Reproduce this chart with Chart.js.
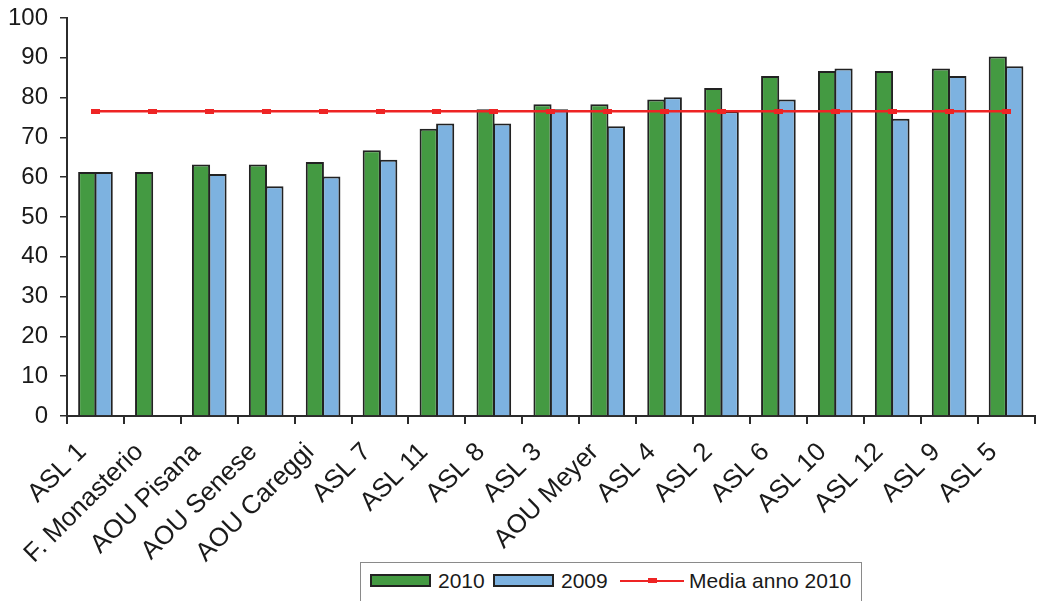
<!DOCTYPE html>
<html>
<head>
<meta charset="utf-8">
<script src="https://cdn.jsdelivr.net/npm/chart.js@4.4.1/dist/chart.umd.min.js"></script>
<style>
  html, body { margin: 0; padding: 0; background: #fff; overflow: hidden; }
  #wrap { position: relative; width: 1041px; height: 601px; }
  #c { position: absolute; left: 0; top: 0; }
  #legend {
    position: absolute; left: 360px; top: 562px; width: 502px; height: 60px;
    border: 1px solid #8a8a8a; box-sizing: border-box; background: #fff;
    font-family: "Liberation Sans", Arial, sans-serif; font-size: 21px; color: #1a1a1a;
  }
  .sw { position: absolute; top: 11px; width: 61px; height: 13px; box-sizing: border-box; border: 2px solid #222; }
  .tx { position: absolute; top: 5px; height: 26px; line-height: 26px; white-space: nowrap; }
  .ln { position: absolute; top: 17px; height: 2px; width: 64px; }
  .mk { position: absolute; top: 15px; width: 9px; height: 5px; }
</style>
</head>
<body>
<div id="wrap">
  <canvas id="c" width="1041" height="601"></canvas>
  <div id="legend"></div>
</div>
<script>
// ---- data ----
const categories = ["ASL 1", "F. Monasterio", "AOU Pisana", "AOU Senese", "AOU Careggi", "ASL 7", "ASL 11", "ASL 8", "ASL 3", "AOU Meyer", "ASL 4", "ASL 2", "ASL 6", "ASL 10", "ASL 12", "ASL 9", "ASL 5"];
const values2010 = [61.3, 61.3, 63.2, 63.2, 63.8, 66.8, 72.2, 77.1, 78.3, 78.3, 79.5, 82.4, 85.4, 86.7, 86.7, 87.3, 90.3];
const values2009 = [61.3, null, 60.8, 57.7, 60.2, 64.4, 73.5, 73.5, 77.1, 72.8, 80.1, 76.6, 79.5, 87.3, 74.7, 85.4, 87.9];
const media2010 = [76.6, 76.6, 76.6, 76.6, 76.6, 76.6, 76.6, 76.6, 76.6, 76.6, 76.6, 76.6, 76.6, 76.6, 76.6, 76.6, 76.6];
const seriesLabels = ["2010", "2009", "Media anno 2010"];

// ---- styles ----
const FONT = '"Liberation Sans", Arial, sans-serif';
const GREEN = '#449a42';
const BLUE = '#7db2e0';
const RED = '#ee2424';
const AXIS = '#2b2b2b';

const marker = document.createElement('canvas');
marker.width = 9; marker.height = 5;
(function () { const g = marker.getContext('2d'); g.fillStyle = RED; g.fillRect(0, 0, 9, 5); })();

const chart = new Chart(document.getElementById('c'), {
  type: 'bar',
  data: {
    labels: categories,
    datasets: [
      { type: 'line', label: seriesLabels[2], data: media2010, borderColor: RED, backgroundColor: RED,
        borderWidth: 2.5, pointStyle: marker, pointRadius: 4, order: 0, tension: 0 },
      { label: seriesLabels[0], data: values2010, backgroundColor: GREEN, borderColor: '#222',
        borderWidth: 2, categoryPercentage: 0.58, barPercentage: 1.1, order: 1 },
      { label: seriesLabels[1], data: values2009, backgroundColor: BLUE, borderColor: '#222',
        borderWidth: 2, categoryPercentage: 0.58, barPercentage: 1.1, order: 1 }
    ]
  },
  options: {
    responsive: false,
    animation: false,
    devicePixelRatio: 1,
    layout: { padding: { top: 18, right: 4, left: 0, bottom: 0 } },
    plugins: { legend: { display: false }, tooltip: { enabled: false } },
    scales: {
      x: {
        offset: true,
        grid: { display: true, offset: true, drawOnChartArea: false, drawTicks: true, tickLength: 8, color: AXIS, lineWidth: 2 },
        border: { display: true, color: AXIS, width: 2 },
        ticks: { autoSkip: false, maxRotation: 45, minRotation: 45, labelOffset: -13, padding: 13,
                 color: '#1a1a1a', font: { family: FONT, size: 26 } },
        afterFit(s) { s.height = 185; s.paddingLeft = 0; s.paddingRight = 0; }
      },
      y: {
        min: 0, max: 100,
        grid: { display: true, drawOnChartArea: false, drawTicks: true, tickLength: 7, color: AXIS, lineWidth: 1.5 },
        border: { display: true, color: AXIS, width: 2 },
        ticks: { stepSize: 10, padding: 12, color: '#1a1a1a', font: { family: FONT, size: 24 } },
        afterFit(s) { s.width = 67; s.paddingTop = 0; s.paddingBottom = 0; }
      }
    }
  }
});

// ---- HTML legend built from the chart datasets ----
(function () {
  const lg = document.getElementById('legend');
  const ds = chart.data.datasets;
  const order = [1, 2, 0];
  const lefts = [[9, 77], [132, 200], [259, 328]];
  order.forEach((idx, i) => {
    const d = ds[idx];
    if (d.type === 'line') {
      const l = document.createElement('div'); l.className = 'ln';
      l.style.left = lefts[i][0] + 'px'; l.style.background = d.borderColor; lg.appendChild(l);
      const m = document.createElement('div'); m.className = 'mk';
      m.style.left = (lefts[i][0] + 28) + 'px'; m.style.background = d.borderColor; lg.appendChild(m);
    } else {
      const s = document.createElement('div'); s.className = 'sw';
      s.style.left = lefts[i][0] + 'px'; s.style.background = d.backgroundColor; lg.appendChild(s);
    }
    const t = document.createElement('div'); t.className = 'tx';
    t.style.left = lefts[i][1] + 'px'; t.textContent = d.label; lg.appendChild(t);
  });
})();
</script>
</body>
</html>
